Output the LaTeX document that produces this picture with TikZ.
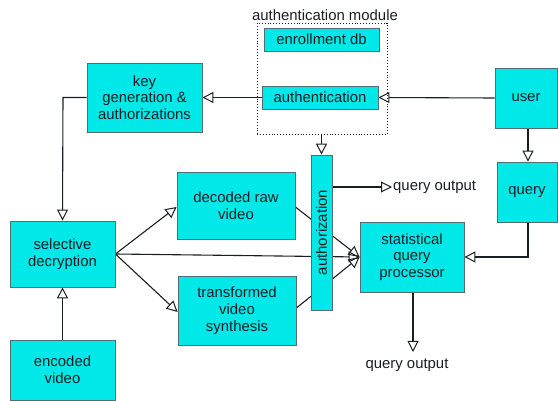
\documentclass[tikz,border=0pt]{standalone}
\usepackage{fontspec}
\setmainfont{Liberation Sans}
\usetikzlibrary{arrows.meta,backgrounds}
\definecolor{boxfill}{RGB}{0,232,232}
\definecolor{boxline}{RGB}{80,110,115}
\definecolor{ink}{RGB}{25,30,35}
\begin{document}
\begin{tikzpicture}[x=1pt,y=-1pt,
  font=\fontsize{14.9}{16.8}\selectfont,
  blk/.style={draw=boxline,line width=0.8pt,fill=boxfill,text=ink,
    inner sep=0pt,align=center,anchor=center},
  link/.style={draw=ink,line width=1.1pt,
    -{Triangle[open,length=11pt,width=11pt,line width=1pt]}},
  plain/.style={draw=ink,line width=1.1pt}]
\useasboundingbox (0,0) rectangle (558,401);

% authentication module
\node[draw=ink,dotted,line width=0.9pt,minimum width=130pt,minimum height=111pt,
  inner sep=0pt] (module) at (322,78.5) {};
\node[text=ink,inner sep=0pt] (modlabel) at (325,15) {authentication module};
\node[blk,minimum width=115pt,minimum height=23pt] (enroll) at (321.5,39.5) {enrollment db};
\node[blk,minimum width=116pt,minimum height=23pt] (auth) at (320,97.5) {authentication};

% main blocks
\node[blk,minimum width=115pt,minimum height=69pt] (keygen) at (144.5,97.5)
  {key\\generation \&\\authorizations};
\node[blk,minimum width=62pt,minimum height=60pt] (user) at (526,98) {user};
\node[blk,minimum width=60pt,minimum height=60pt] (query) at (527,192) {query};
\node[blk,minimum width=104pt,minimum height=70pt] (sqp) at (412,257)
  {statistical\\query\\processor};
\node[blk,minimum width=118pt,minimum height=67pt] (decoded) at (236,205.5)
  {decoded raw\\video};
\node[blk,minimum width=118pt,minimum height=69pt] (transf) at (237,310.5)
  {transformed\\video\\synthesis};
\node[blk,minimum width=105pt,minimum height=66pt] (seldec) at (62.5,254)
  {selective\\decryption};
\node[blk,minimum width=105pt,minimum height=60pt] (encoded) at (62.5,370)
  {encoded\\video};
\node[blk,minimum width=21pt,minimum height=155pt] (authz) at (321.5,232.5)
  {\rotatebox{90}{authorization}};

% free ends
\coordinate (qoA) at (392,187);
\coordinate (qoB) at (413,352);
\node[text=ink,inner sep=0pt,anchor=west] (qoutA) at (393,187) {query output};
\node[text=ink,inner sep=0pt] (qoutB) at (407,365) {query output};

\begin{scope}[on background layer]
  \draw[link] (user.west) -- (auth.east);
  \draw[link] (auth.west) -- (keygen.east);
  \draw[link] (keygen.west) -- (63,97.5) -- (seldec.north);
  \draw[link] (encoded.north) -- (seldec.south);
  \draw[link] (seldec.east) -- (decoded.west |- 0,207);
  \draw[link] (seldec.east) -- (transf.west |- 0,312);
  \draw[link] (seldec.east) -- (sqp.west);
  \draw[link] (decoded.east |- 0,207) -- (sqp.west);
  \draw[link] (transf.east |- 0,308) -- (sqp.west);
  \draw[link] (module.south -| authz.north) -- (authz.north);
  \draw[link] (authz.east |- qoA) -- (qoA);
  \draw[link] (user.south -| 528,0) -- (query.north -| 528,0);
  \draw[link] (query.south -| 528,0) -- (528,257) -- (sqp.east);
  \draw[link] (sqp.south -| qoB) -- (qoB);
\end{scope}
\end{tikzpicture}
\end{document}
